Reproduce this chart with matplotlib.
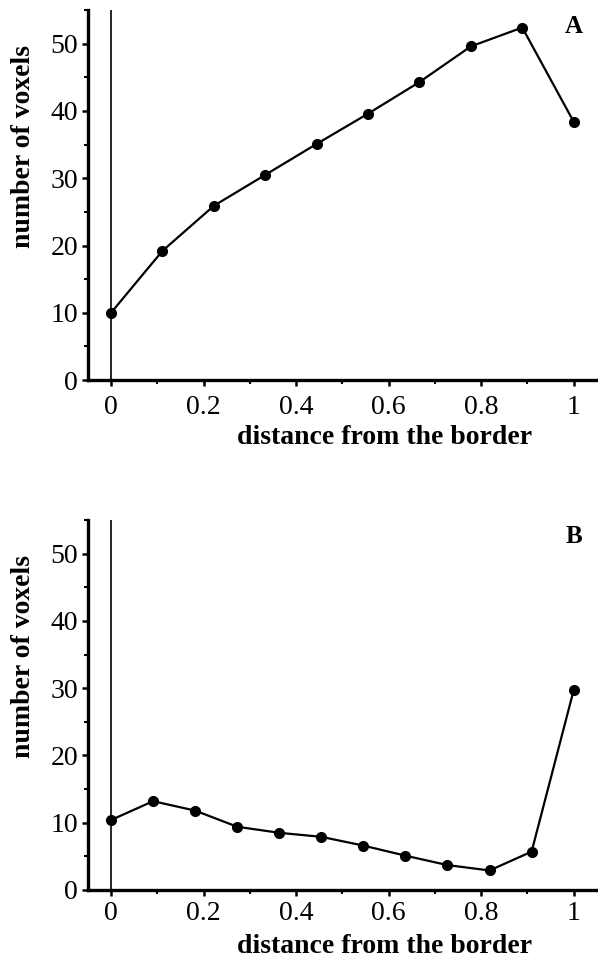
import matplotlib.pyplot as plt
import numpy as np
from matplotlib.ticker import MultipleLocator

plt.rcParams['font.family'] = ['Liberation Serif', 'DejaVu Serif']

# panel A: 10 bins, panel B: 12 bins
dist_a = np.arange(10) / 9
voxels_a = [10.0, 19.2, 25.9, 30.5, 35.1, 39.6, 44.3, 49.6, 52.4, 38.4]
dist_b = np.arange(12) / 11
voxels_b = [10.4, 13.2, 11.8, 9.4, 8.5, 7.9, 6.6, 5.1, 3.7, 2.9, 5.7, 29.7]
panels = [("A", dist_a, voxels_a), ("B", dist_b, voxels_b)]

fig = plt.figure(figsize=(5.98, 9.68), dpi=100)
boxes = [[0.147, 0.6074, 0.851, 0.3822], [0.147, 0.0806, 0.851, 0.3822]]
tick_pads = [7, 4]
xlab_y = [-0.122, -0.12]

for (tag, x, y), box, tp, xly in zip(panels, boxes, tick_pads, xlab_y):
    ax = fig.add_axes(box)
    ax.plot(x, y, color="black", lw=1.6, marker="o", ms=7, clip_on=False, zorder=3)
    ax.axvline(0, color="black", lw=1.2)
    ax.set_xlim(-0.05, 1.05)
    ax.set_ylim(0, 55)
    ax.spines['top'].set_visible(False)
    ax.spines['right'].set_visible(False)
    ax.spines['left'].set_linewidth(2.4)
    ax.spines['bottom'].set_linewidth(2.4)
    ax.set_xticks([0, 0.2, 0.4, 0.6, 0.8, 1])
    ax.set_xticklabels(["0", "0.2", "0.4", "0.6", "0.8", "1"])
    ax.set_yticks([0, 10, 20, 30, 40, 50])
    ax.xaxis.set_minor_locator(MultipleLocator(0.1))
    ax.yaxis.set_minor_locator(MultipleLocator(5))
    ax.tick_params(which="major", length=4, width=1.8, labelsize=20)
    ax.tick_params(axis="x", which="major", pad=tp)
    ax.tick_params(axis="y", which="major", pad=3)
    ax.tick_params(which="minor", length=3, width=1.5)
    ax.set_ylabel("number of voxels", fontsize=20, fontweight="bold")
    ax.set_xlabel("distance from the border", fontsize=20, fontweight="bold")
    ax.yaxis.set_label_coords(-0.102, 0.63)
    ax.xaxis.set_label_coords(0.583, xly)
    ax.text(1.0, 52.6, tag, fontsize=18, fontweight="bold", ha="center", va="center")

fig.savefig("out.png", dpi=100)
